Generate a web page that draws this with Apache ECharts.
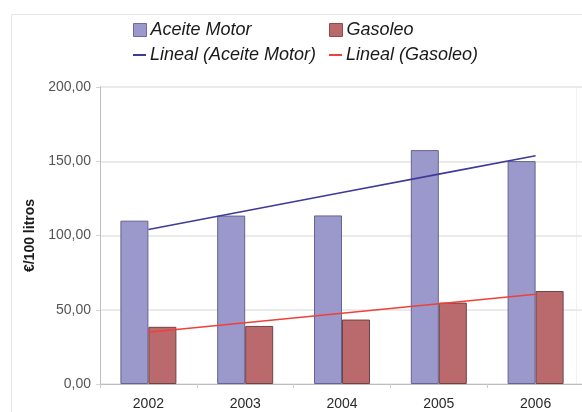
<!DOCTYPE html>
<html>
<head>
<meta charset="utf-8">
<script src="https://cdn.jsdelivr.net/npm/echarts@6/dist/echarts.min.js"></script>
<style>
  html, body { margin: 0; padding: 0; background: #ffffff; overflow: hidden; width: 582px; height: 412px; }
  #chart { width: 600px; height: 412px; }
</style>
</head>
<body>
<div id="chart"></div>
<script>
// Years on the category axis
const years = ['2002', '2003', '2004', '2005', '2006'];
// Price per 100 litres
const aceiteMotor = [110.0, 113.4, 113.5, 157.5, 150.1];
const gasoleo = [38.5, 39.1, 43.4, 54.8, 62.6];
// Value axis ticks
const yTicks = [0, 50, 100, 150, 200];

// Least-squares linear trend over the category index
function linearTrend(values) {
  const n = values.length;
  let sx = 0, sy = 0, sxy = 0, sxx = 0;
  values.forEach((v, i) => { sx += i; sy += v; sxy += i * v; sxx += i * i; });
  const slope = (n * sxy - sx * sy) / (n * sxx - sx * sx);
  const icpt = (sy - slope * sx) / n;
  return values.map((_, i) => +(icpt + slope * i).toFixed(3));
}

const FONT = '"Liberation Sans", Arial, sans-serif';
const PURPLE = '#9b98cb';
const RED = '#ba6a6d';
const PURPLE_LINE = '#3e3a98';
const RED_LINE = '#f0403a';

const chart = echarts.init(document.getElementById('chart'), null, { renderer: 'canvas' });

function legendItem(name, left, top, icon, color, w, h, border) {
  return {
    data: [name],
    left: left, top: top,
    padding: 0,
    icon: icon,
    itemWidth: w, itemHeight: h,
    selectedMode: false,
    itemStyle: { color: color, borderColor: border || color, borderWidth: border ? 1 : 0 },
    lineStyle: { width: 0 },
    textStyle: { fontFamily: FONT, fontStyle: 'italic', fontSize: 18, color: '#1a1a1a', lineHeight: 18, padding: [0, 0, 0, -1] }
  };
}

chart.setOption({
  animation: false,
  backgroundColor: '#ffffff',
  legend: [
    legendItem('Aceite Motor', 133, 21, 'rect', PURPLE, 13, 13, '#6f6c9c'),
    legendItem('Gasoleo', 329, 21, 'rect', RED, 13, 13, '#8a4d50'),
    legendItem('Lineal (Aceite Motor)', 133, 46, 'rect', PURPLE_LINE, 13, 2),
    legendItem('Lineal (Gasoleo)', 329, 46, 'rect', RED_LINE, 13, 2)
  ],
  graphic: [
    { type: 'line', silent: true, z: -1, shape: { x1: 11.5, y1: 14.5, x2: 600, y2: 14.5 }, style: { stroke: '#e6e6e6', lineWidth: 1 } },
    { type: 'line', silent: true, z: -1, shape: { x1: 11.5, y1: 14.5, x2: 11.5, y2: 412 }, style: { stroke: '#e6e6e6', lineWidth: 1 } },
    { type: 'line', silent: true, z: -1, shape: { x1: 576.5, y1: 87, x2: 576.5, y2: 384 }, style: { stroke: '#f1f1f1', lineWidth: 1 } }
  ],
  grid: { left: 100, top: 87, width: 484, height: 297, containLabel: false },
  xAxis: {
    type: 'category',
    data: years,
    boundaryGap: true,
    axisLine: { lineStyle: { color: '#bdbdbd', width: 1 } },
    axisTick: { show: true, alignWithLabel: false, length: 4, lineStyle: { color: '#cccccc' } },
    axisLabel: { fontFamily: FONT, fontSize: 14, color: '#2a2a2a', margin: 13 }
  },
  yAxis: {
    type: 'value',
    min: yTicks[0], max: yTicks[yTicks.length - 1], interval: 50,
    name: '€/100 litros',
    nameLocation: 'middle',
    nameGap: 61,
    nameTextStyle: { fontFamily: FONT, fontSize: 14, fontWeight: 'bold', color: '#1a1a1a' },
    axisLine: { show: true, lineStyle: { color: '#bdbdbd', width: 1 } },
    axisTick: { show: true, length: 4, lineStyle: { color: '#d4d4d4' } },
    splitLine: { show: true, lineStyle: { color: '#e4e4e4', width: 1.5 } },
    axisLabel: {
      fontFamily: FONT, fontSize: 14, color: '#555', margin: 9,
      formatter: v => v.toFixed(2).replace('.', ',')
    }
  },
  series: [
    {
      name: 'Aceite Motor', type: 'bar', data: aceiteMotor,
      barWidth: 28, barGap: '0%',
      itemStyle: { color: PURPLE, borderColor: '#66638f', borderWidth: 1 }
    },
    {
      name: 'Gasoleo', type: 'bar', data: gasoleo,
      barWidth: 28, barGap: '0%',
      itemStyle: { color: RED, borderColor: '#6e4346', borderWidth: 1 }
    },
    {
      name: 'Lineal (Aceite Motor)', type: 'line', data: linearTrend(aceiteMotor),
      showSymbol: false, symbol: 'none', z: 5,
      lineStyle: { color: PURPLE_LINE, width: 1.6 }, itemStyle: { color: PURPLE_LINE }
    },
    {
      name: 'Lineal (Gasoleo)', type: 'line', data: linearTrend(gasoleo),
      showSymbol: false, symbol: 'none', z: 5,
      lineStyle: { color: RED_LINE, width: 1.6 }, itemStyle: { color: RED_LINE }
    }
  ]
});
</script>
</body>
</html>
